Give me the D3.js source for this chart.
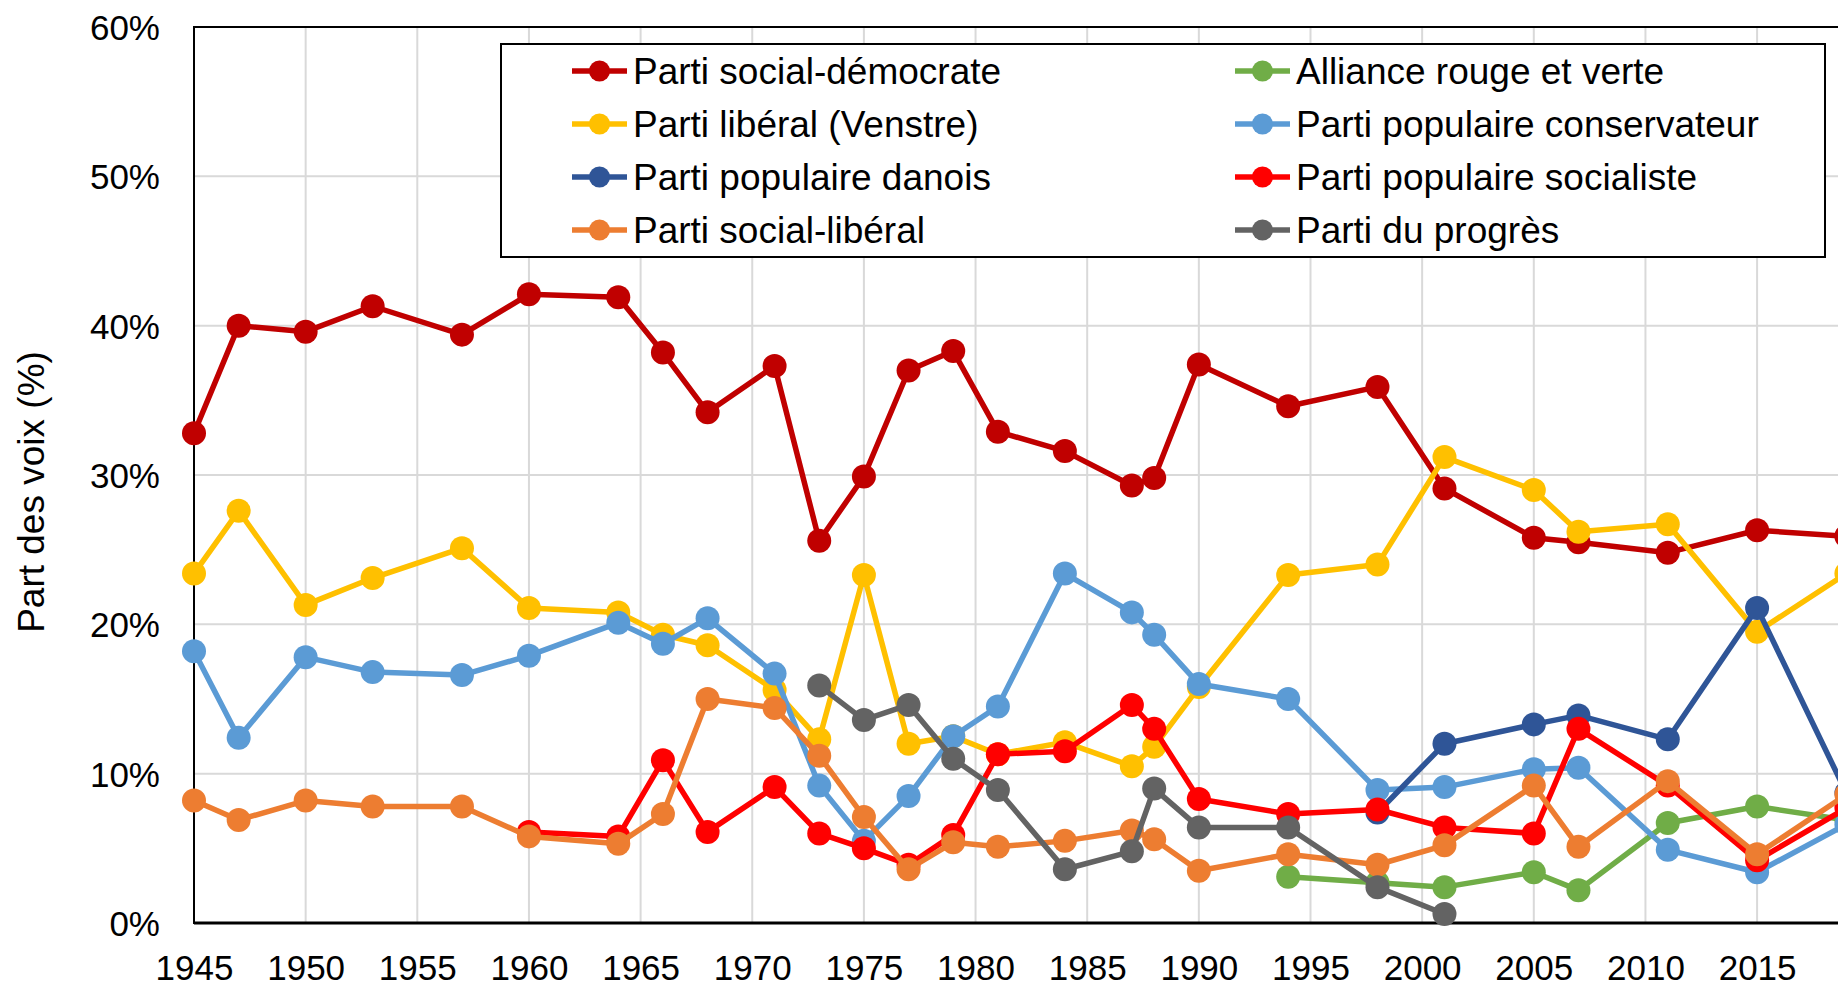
<!DOCTYPE html>
<html lang="fr">
<head>
<meta charset="utf-8">
<title>Part des voix</title>
<script src="https://cdn.jsdelivr.net/npm/d3@7"></script>
<style>
body { margin: 0; background: #fff; }
text { font-family: "Liberation Sans", Arial, sans-serif; }
</style>
</head>
<body>
<script>
// election years (Sep 1953 used for 1953)
var years = [1945,1947,1950,1953,1957,1960,1964,1966,1968,1971,1973,1975,1977,1979,
             1981,1984,1987,1988,1990,1994,1998,2001,2005,2007,2011,2015,2019];

var socDem   = [32.8,40.0,39.6,41.3,39.4,42.1,41.9,38.2,34.2,37.3,25.6,29.9,37.0,38.3,
                32.9,31.6,29.3,29.8,37.4,34.6,35.9,29.1,25.8,25.5,24.8,26.3,25.9];
var alliance = [null,null,null,null,null,null,null,null,null,null,null,null,null,null,
                null,null,null,null,null,3.1,2.7,2.4,3.4,2.2,6.7,7.8,6.9];
var venstre  = [23.4,27.6,21.3,23.1,25.1,21.1,20.8,19.3,18.6,15.6,12.3,23.3,12.0,12.5,
                11.3,12.1,10.5,11.8,15.8,23.3,24.0,31.2,29.0,26.2,26.7,19.5,23.4];
var conserv  = [18.2,12.4,17.8,16.8,16.6,17.9,20.1,18.7,20.4,16.7,9.2,5.5,8.5,12.5,
                14.5,23.4,20.8,19.3,16.0,15.0,8.9,9.1,10.3,10.4,4.9,3.4,6.6];
var danois   = [null,null,null,null,null,null,null,null,null,null,null,null,null,null,
                null,null,null,null,null,null,7.4,12.0,13.3,13.9,12.3,21.1,8.7];
var socialiste = [null,null,null,null,null,6.1,5.8,10.9,6.1,9.1,6.0,5.0,3.9,5.9,
                11.3,11.5,14.6,13.0,8.3,7.3,7.6,6.4,6.0,13.0,9.2,4.2,7.7];
var socLib   = [8.2,6.9,8.2,7.8,7.8,5.8,5.3,7.3,15.0,14.4,11.2,7.1,3.6,5.4,
                5.1,5.5,6.2,5.6,3.5,4.6,3.9,5.2,9.2,5.1,9.5,4.6,8.6];
var progres  = [null,null,null,null,null,null,null,null,null,null,15.9,13.6,14.6,11.0,
                8.9,3.6,4.8,9.0,6.4,6.4,2.4,0.6,null,null,null,null,null];

var xTicks = [1945,1950,1955,1960,1965,1970,1975,1980,1985,1990,1995,2000,2005,2010,2015];
var yTicks = [0,10,20,30,40,50,60];

// series in drawing / legend order (row by row)
var series = [
    {name: "Parti social-démocrate", values: socDem, color: "#C00000"},
    {name: "Alliance rouge et verte", values: alliance, color: "#70AD47"},
    {name: "Parti libéral (Venstre)", values: venstre, color: "#FFC000"},
    {name: "Parti populaire conservateur", values: conserv, color: "#5B9BD5"},
    {name: "Parti populaire danois", values: danois, color: "#2F5597"},
    {name: "Parti populaire socialiste", values: socialiste, color: "#FF0000"},
    {name: "Parti social-libéral", values: socLib, color: "#ED7D31"},
    {name: "Parti du progrès", values: progres, color: "#636363"}
];

var w = 1838, h = 986;
var plotLeft = 194, plotTop = 27, plotBottom = 923;

var x = d3.scaleLinear().domain([1945, 2015]).range([plotLeft, plotLeft + 70 * 22.33]);
var y = d3.scaleLinear().domain([0, 60]).range([plotBottom, plotTop]);

var svg = d3.select("body").append("svg")
    .attr("width", w)
    .attr("height", h);

// gridlines
svg.append("g").selectAll("line")
    .data(xTicks.slice(1))
    .enter().append("line")
    .attr("x1", d => x(d)).attr("x2", d => x(d))
    .attr("y1", plotTop).attr("y2", plotBottom)
    .attr("stroke", "#D9D9D9").attr("stroke-width", 2);

svg.append("g").selectAll("line")
    .data(yTicks.slice(1, -1))
    .enter().append("line")
    .attr("x1", plotLeft).attr("x2", w)
    .attr("y1", d => y(d)).attr("y2", d => y(d))
    .attr("stroke", "#D9D9D9").attr("stroke-width", 2);

// plot frame
svg.append("rect")
    .attr("x", plotLeft).attr("y", plotTop)
    .attr("width", x(2020) - plotLeft).attr("height", plotBottom - plotTop)
    .attr("fill", "none").attr("stroke", "#000").attr("stroke-width", 2);
svg.append("line")
    .attr("x1", plotLeft).attr("x2", w)
    .attr("y1", plotBottom).attr("y2", plotBottom)
    .attr("stroke", "#000").attr("stroke-width", 3);

// axes
var yAxis = svg.append("g")
    .attr("transform", "translate(" + plotLeft + ",0)")
    .call(d3.axisLeft(y).tickValues(yTicks).tickSize(0).tickPadding(34)
        .tickFormat(d => d + "%"));
var xAxis = svg.append("g")
    .attr("transform", "translate(0," + plotBottom + ")")
    .call(d3.axisBottom(x).tickValues(xTicks).tickSize(0).tickPadding(32)
        .tickFormat(d3.format("d")));
[yAxis, xAxis].forEach(function(g) {
    g.select(".domain").remove();
    g.selectAll("text")
        .attr("font-family", "Liberation Sans, Arial, sans-serif")
        .attr("font-size", 35)
        .attr("fill", "#000");
});
yAxis.selectAll("text").attr("dy", "0.36em");

// y title
svg.append("text")
    .attr("transform", "translate(44,492) rotate(-90)")
    .attr("text-anchor", "middle")
    .attr("font-size", 37)
    .text("Part des voix (%)");

// lines + markers
var line = d3.line()
    .defined(d => d.v != null)
    .x(d => x(d.year))
    .y(d => y(d.v));

series.forEach(function(s) {
    var pts = years.map((yr, i) => ({year: yr, v: s.values[i]}));
    var g = svg.append("g");
    g.append("path")
        .datum(pts)
        .attr("d", line)
        .attr("fill", "none")
        .attr("stroke", s.color)
        .attr("stroke-width", 5.5)
        .attr("stroke-linejoin", "round");
    g.selectAll("circle")
        .data(pts.filter(d => d.v != null))
        .enter().append("circle")
        .attr("cx", d => x(d.year))
        .attr("cy", d => y(d.v))
        .attr("r", 12)
        .attr("fill", s.color);
});

// legend
var lg = svg.append("g");
lg.append("rect")
    .attr("x", 501).attr("y", 44)
    .attr("width", 1825 - 501).attr("height", 257 - 44)
    .attr("fill", "#fff").attr("stroke", "#000").attr("stroke-width", 2);

var colX = [572, 1235];
series.forEach(function(s, i) {
    var cx = colX[i % 2];
    var cy = 71 + Math.floor(i / 2) * 53;
    var item = lg.append("g").attr("transform", "translate(" + cx + "," + cy + ")");
    item.append("line")
        .attr("x1", 0).attr("x2", 55)
        .attr("stroke", s.color).attr("stroke-width", 5.5);
    item.append("circle")
        .attr("cx", 27.5).attr("r", 10.5).attr("fill", s.color);
    item.append("text")
        .attr("x", 61).attr("dy", "0.35em")
        .attr("font-size", 37)
        .text(s.name);
});
</script>
</body>
</html>
